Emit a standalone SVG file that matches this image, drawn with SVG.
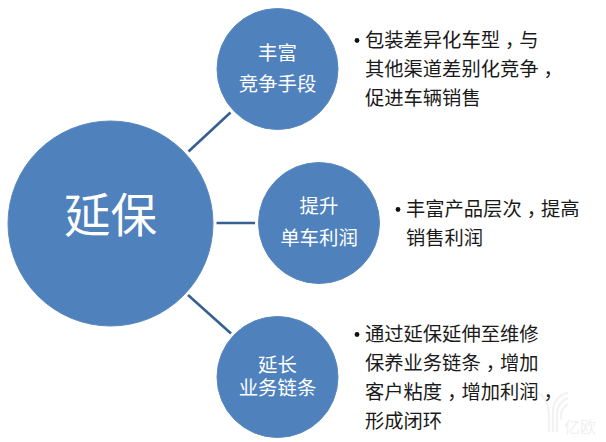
<svg xmlns="http://www.w3.org/2000/svg" width="606" height="442" viewBox="0 0 606 442">
<style>
.n{fill:#4f81bd;stroke:#5a89c0;stroke-width:1}
.c{stroke:#376092;stroke-width:2.6;fill:none}
text{font-family:"Noto Sans CJK SC","Noto Sans",sans-serif}
.w{fill:#fff;font-size:19.4px;text-anchor:middle}
.b{fill:#1a1a1a;font-size:19.3px}
.k{letter-spacing:-5px}
.wm{fill:none;stroke:#f3f3f3;stroke-width:2.4}
</style>
<rect width="606" height="442" fill="#fff"/>
<g id="watermark">
<path class="wm" d="M549 432V416C549 404 544 396 537 392"/>
<path class="wm" d="M553 432V412C553 401 560 394 568 393"/>
<path class="wm" d="M557 432V414C557 406 562 400 568 398"/>
<path class="wm" d="M561 420V416C561 411 564 406 568 404"/>
<text x="564" y="433" font-size="16" fill="#f0f0f0">亿欧</text>
</g>
<g id="connectors">
<line class="c" x1="230.5" y1="112.5" x2="188.5" y2="151.5"/>
<line class="c" x1="216.5" y1="223" x2="255" y2="223"/>
<line class="c" x1="188" y1="295" x2="231" y2="333.5"/>
</g>
<g id="node-main">
<circle class="n" cx="110.5" cy="223.5" r="102.5"/>
<text x="110.5" y="232" style="font-size:46.5px;fill:#fff;text-anchor:middle">延保</text>
</g>
<g id="node-top">
<circle class="n" cx="277.5" cy="69" r="60.5"/>
<text class="w" x="277.5" y="60">丰富</text>
<text class="w" x="277.5" y="91">竞争手段</text>
</g>
<g id="node-mid">
<circle class="n" cx="319" cy="223" r="60.5"/>
<text class="w" x="319" y="213">提升</text>
<text class="w" x="319" y="245">单车利润</text>
</g>
<g id="node-bot">
<circle class="n" cx="277.5" cy="377" r="60.5"/>
<text class="w" x="277.5" y="372">延长</text>
<text class="w" x="277.5" y="395">业务链条</text>
</g>
<g id="text-top">
<circle cx="357" cy="40.5" r="2.4" fill="#111"/>
<text class="b" x="365" y="47">包装差异化车型<tspan class="k" dx="5">，</tspan>与</text>
<text class="b" x="365" y="76">其他渠道差别化竞争<tspan class="k" dx="5">，</tspan></text>
<text class="b" x="365" y="105">促进车辆销售</text>
</g>
<g id="text-mid">
<circle cx="398" cy="209.5" r="2.4" fill="#111"/>
<text class="b" x="406" y="216">丰富产品层次<tspan class="k" dx="5">，</tspan>提高</text>
<text class="b" x="406" y="245">销售利润</text>
</g>
<g id="text-bot">
<circle cx="357" cy="334.5" r="2.4" fill="#111"/>
<text class="b" x="365" y="341">通过延保延伸至维修</text>
<text class="b" x="365" y="370">保养业务链条<tspan class="k" dx="5">，</tspan>增加</text>
<text class="b" x="365" y="399">客户粘度<tspan class="k" dx="5">，</tspan>增加利润<tspan class="k" dx="5">，</tspan></text>
<text class="b" x="365" y="428">形成闭环</text>
</g>
</svg>
